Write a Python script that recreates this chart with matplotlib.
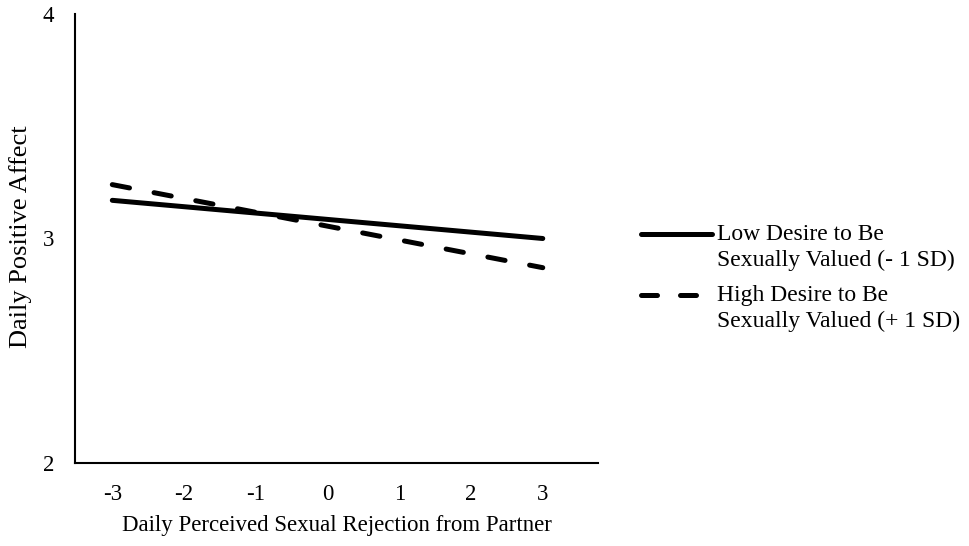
import matplotlib
matplotlib.use("Agg")
import matplotlib.pyplot as plt
from matplotlib.lines import Line2D

plt.rcParams['font.family'] = ['Liberation Serif', 'DejaVu Serif']

# Simple slopes of daily positive affect on perceived sexual rejection
x_vals = [-3, 3]
low_desire = [3.17, 3.00]
high_desire = [3.24, 2.87]
x_ticks = [-3, -2, -1, 0, 1, 2, 3]
y_ticks = [2, 3, 4]
labels = ["Low Desire to Be\nSexually Valued (- 1 SD)",
          "High Desire to Be\nSexually Valued (+ 1 SD)"]

fig = plt.figure(figsize=(9.69, 5.46), dpi=100)
ax = fig.add_axes([75/969, 83/546, 523/969, 449/546])

lw = 3.6
dash = (3.5, 5)
ax.plot(x_vals, low_desire, color='black', lw=lw, solid_capstyle='round')
ax.plot(x_vals, high_desire, color='black', lw=lw, linestyle=(0, dash),
        dash_capstyle='round')

ax.set_xlim(-3.52, 3.77)
ax.set_ylim(2, 4)
ax.set_xticks(x_ticks)
ax.set_xticklabels([str(t) for t in x_ticks])
ax.set_yticks(y_ticks)
ax.tick_params(axis='both', length=0, labelsize=16.5)
ax.tick_params(axis='x', pad=15)
ax.tick_params(axis='y', pad=15)
for s in ['top', 'right']:
    ax.spines[s].set_visible(False)
for s in ['left', 'bottom']:
    ax.spines[s].set_linewidth(1.5)

ax.set_xlabel("Daily Perceived Sexual Rejection from Partner", fontsize=16.5, labelpad=7)
ax.set_ylabel("Daily Positive Affect", fontsize=19, va='center')
ax.yaxis.set_label_coords((21 - 75)/523, (546 - 83 - 237)/449)

# Legend drawn beside the plot, handle aligned with the first text line
styles = [dict(linestyle='-', solid_capstyle='round'),
          dict(linestyle=(0, (3.2, 4.6)), dash_capstyle='round')]
y_rows = [234, 295]
x_ends = [712, 704]
for lab, st, yr, xe in zip(labels, styles, y_rows, x_ends):
    yf = 1 - yr/546
    fig.add_artist(Line2D([641/969, xe/969], [yf, yf], color='black', lw=lw,
                          transform=fig.transFigure, **st))
    fig.text(717/969, 1 - (yr - 10)/546, lab, fontsize=17, va='top', ha='left',
             linespacing=1.3)

fig.savefig("out.png", dpi=100)
